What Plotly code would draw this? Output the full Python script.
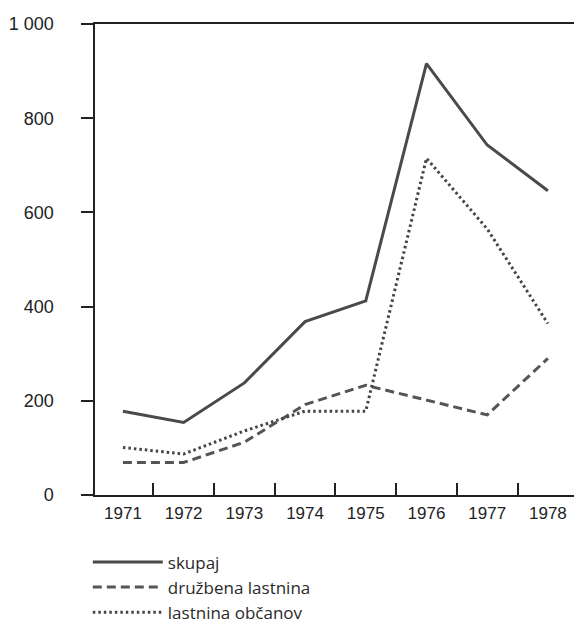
import plotly.graph_objects as go

years = ["1971", "1972", "1973", "1974", "1975", "1976", "1977", "1978"]
skupaj = [178, 154, 238, 368, 412, 916, 743, 646]
druzbena = [69, 69, 112, 192, 233, 201, 170, 290]
obcanov = [101, 87, 136, 178, 178, 715, 565, 364]
y_ticks = [0, 200, 400, 600, 800, 1000]
y_tick_labels = ["0", "200", "400", "600", "800", "1 000"]

xpos = list(range(len(years)))
FONT = "Liberation Sans"
PAD = "\u2007\u2007\u2009"

fig = go.Figure()
fig.add_trace(go.Scatter(x=xpos, y=skupaj, mode="lines", name="skupaj",
                         line=dict(color="#4a4a4a", width=3)))
fig.add_trace(go.Scatter(x=xpos, y=druzbena, mode="lines", name="družbena lastnina",
                         line=dict(color="#555555", width=3, dash="9px,5px")))
fig.add_trace(go.Scatter(x=xpos, y=obcanov, mode="lines", name="lastnina občanov",
                         line=dict(color="#444444", width=3, dash="2.5px,3px")))

fig.update_layout(
    width=574, height=626,
    margin=dict(l=95, r=0, t=24, b=131, autoexpand=False),
    paper_bgcolor="white", plot_bgcolor="white",
    font=dict(family=FONT, color="#222222"),
    showlegend=True,
    legend=dict(x=-0.015, y=-0.105, xanchor="left", yanchor="top",
                font=dict(family="Open Sans", size=17, color="#2a2a2a"),
                bgcolor="rgba(0,0,0,0)", tracegroupgap=0, itemwidth=70),
    xaxis=dict(range=[-0.46, 7.43], tickmode="array", tickvals=xpos, ticktext=years,
               ticks="outside", ticklen=2, tickwidth=1, tickcolor="rgba(0,0,0,0)",
               showgrid=False, zeroline=False,
               showline=True, linecolor="#222222", linewidth=2, mirror=True,
               tickfont=dict(family=FONT, size=17, color="#222222"),
               minor=dict(tickmode="linear", tick0=0.5, dtick=1,
                          ticks="inside", ticklen=12, tickwidth=2, tickcolor="#222222",
                          showgrid=False)),
    yaxis=dict(range=[0, 1000], tickmode="array", tickvals=y_ticks,
               ticktext=[t + PAD for t in y_tick_labels],
               ticks="outside", ticklen=12, tickwidth=2, tickcolor="#222222",
               showgrid=False, zeroline=False,
               showline=True, linecolor="#222222", linewidth=2,
               tickfont=dict(family=FONT, size=18, color="#222222")),
)

fig.write_html("out.html", config={"displayModeBar": False},
               post_script="document.body.style.margin='0';")
